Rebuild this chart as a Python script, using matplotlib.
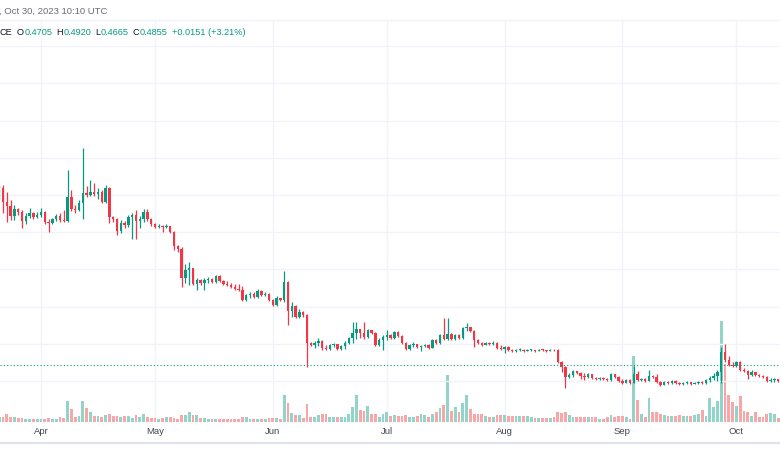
import numpy as np
import matplotlib.pyplot as plt
import matplotlib.dates as mdates
from matplotlib.lines import Line2D
from datetime import datetime, timedelta

plt.rcParams['font.family'] = ['Liberation Sans', 'DejaVu Sans']

# daily candles, first one on 2023-03-21
start_day = datetime(2023, 3, 21)
first_open = 1.384

closes = [
    1.438, 1.362, 1.341, 1.287, 1.325, 1.309, 1.260, 1.287, 1.303, 1.282,
    1.292, 1.309, 1.255, 1.249, 1.271, 1.287, 1.266, 1.260, 1.389, 1.325,
    1.319, 1.357, 1.411, 1.400, 1.416, 1.405, 1.416, 1.362, 1.438, 1.282,
    1.271, 1.206, 1.249, 1.239, 1.282, 1.292, 1.260, 1.271, 1.309, 1.271,
    1.244, 1.228, 1.233, 1.228, 1.233, 1.201, 1.126, 1.110, 0.954, 0.997,
    1.008, 0.922, 0.943, 0.927, 0.943, 0.948, 0.932, 0.965, 0.938, 0.922,
    0.916, 0.905, 0.895, 0.889, 0.835, 0.862, 0.868, 0.852, 0.884, 0.862,
    0.868, 0.835, 0.809, 0.846, 0.835, 0.932, 0.776, 0.803, 0.744, 0.771,
    0.755, 0.604, 0.594, 0.604, 0.615, 0.577, 0.572, 0.594, 0.599, 0.572,
    0.588, 0.604, 0.631, 0.658, 0.680, 0.658, 0.637, 0.674, 0.658, 0.594,
    0.620, 0.637, 0.647, 0.631, 0.663, 0.642, 0.604, 0.572, 0.594, 0.599,
    0.583, 0.588, 0.594, 0.577, 0.620, 0.604, 0.647, 0.626, 0.653, 0.626,
    0.647, 0.631, 0.685, 0.690, 0.669, 0.620, 0.604, 0.594, 0.604, 0.599,
    0.604, 0.577, 0.572, 0.583, 0.567, 0.561, 0.567, 0.567, 0.561, 0.567,
    0.567, 0.561, 0.567, 0.566, 0.561, 0.567, 0.565, 0.502, 0.475, 0.422,
    0.432, 0.454, 0.443, 0.427, 0.422, 0.438, 0.416, 0.411, 0.416, 0.411,
    0.405, 0.438, 0.422, 0.400, 0.389, 0.405, 0.389, 0.438, 0.405, 0.411,
    0.400, 0.427, 0.422, 0.395, 0.378, 0.395, 0.389, 0.400, 0.389, 0.384,
    0.389, 0.395, 0.384, 0.389, 0.395, 0.389, 0.405, 0.416, 0.427, 0.448,
    0.556, 0.513, 0.486, 0.481, 0.502, 0.459, 0.454, 0.432, 0.448, 0.432,
    0.427, 0.422, 0.400, 0.405, 0.411, 0.400,
]

highs = [
    1.454, 1.454, 1.416, 1.373, 1.346, 1.330, 1.319, 1.303, 1.330, 1.309,
    1.309, 1.330, 1.314, 1.271, 1.276, 1.298, 1.303, 1.319, 1.534, 1.427,
    1.346, 1.373, 1.653, 1.448, 1.481, 1.464, 1.438, 1.427, 1.454, 1.443,
    1.287, 1.276, 1.266, 1.260, 1.292, 1.303, 1.319, 1.287, 1.325, 1.325,
    1.276, 1.249, 1.244, 1.239, 1.244, 1.233, 1.206, 1.131, 1.120, 1.029,
    1.040, 1.008, 0.954, 0.948, 0.954, 0.959, 0.954, 0.970, 0.970, 0.943,
    0.938, 0.927, 0.922, 0.922, 0.911, 0.868, 0.878, 0.878, 0.895, 0.889,
    0.878, 0.873, 0.841, 0.857, 0.846, 0.991, 0.938, 0.825, 0.809, 0.787,
    0.776, 0.760, 0.610, 0.615, 0.631, 0.620, 0.594, 0.599, 0.604, 0.599,
    0.594, 0.615, 0.637, 0.717, 0.717, 0.680, 0.717, 0.680, 0.674, 0.663,
    0.631, 0.647, 0.674, 0.653, 0.669, 0.669, 0.647, 0.610, 0.599, 0.610,
    0.599, 0.594, 0.599, 0.599, 0.626, 0.626, 0.653, 0.739, 0.739, 0.658,
    0.653, 0.653, 0.690, 0.712, 0.690, 0.674, 0.626, 0.610, 0.610, 0.610,
    0.615, 0.610, 0.594, 0.588, 0.588, 0.572, 0.572, 0.577, 0.572, 0.572,
    0.572, 0.567, 0.572, 0.572, 0.567, 0.570, 0.570, 0.572, 0.508, 0.481,
    0.443, 0.459, 0.454, 0.448, 0.443, 0.443, 0.438, 0.422, 0.422, 0.422,
    0.416, 0.443, 0.438, 0.427, 0.411, 0.411, 0.411, 0.481, 0.454, 0.416,
    0.416, 0.459, 0.432, 0.438, 0.400, 0.400, 0.400, 0.405, 0.405, 0.395,
    0.395, 0.400, 0.395, 0.395, 0.400, 0.400, 0.411, 0.427, 0.443, 0.459,
    0.583, 0.599, 0.534, 0.502, 0.508, 0.508, 0.470, 0.459, 0.459, 0.448,
    0.438, 0.432, 0.427, 0.416, 0.416, 0.411,
]

lows = [
    1.373, 1.303, 1.255, 1.266, 1.266, 1.292, 1.223, 1.244, 1.276, 1.271,
    1.276, 1.282, 1.244, 1.201, 1.244, 1.260, 1.255, 1.255, 1.255, 1.314,
    1.303, 1.314, 1.271, 1.389, 1.395, 1.395, 1.378, 1.357, 1.357, 1.249,
    1.255, 1.185, 1.196, 1.223, 1.228, 1.163, 1.163, 1.223, 1.255, 1.260,
    1.233, 1.223, 1.223, 1.201, 1.223, 1.196, 1.104, 1.094, 0.905, 0.927,
    0.916, 0.916, 0.889, 0.916, 0.889, 0.927, 0.927, 0.927, 0.932, 0.916,
    0.911, 0.900, 0.889, 0.884, 0.830, 0.830, 0.846, 0.846, 0.846, 0.857,
    0.857, 0.830, 0.803, 0.803, 0.830, 0.825, 0.701, 0.744, 0.739, 0.739,
    0.744, 0.475, 0.588, 0.577, 0.588, 0.567, 0.567, 0.567, 0.583, 0.567,
    0.567, 0.572, 0.599, 0.604, 0.626, 0.631, 0.626, 0.631, 0.653, 0.588,
    0.588, 0.567, 0.620, 0.626, 0.626, 0.637, 0.599, 0.567, 0.567, 0.583,
    0.577, 0.561, 0.583, 0.572, 0.577, 0.599, 0.599, 0.620, 0.620, 0.620,
    0.620, 0.626, 0.626, 0.669, 0.663, 0.583, 0.599, 0.588, 0.594, 0.594,
    0.594, 0.572, 0.567, 0.551, 0.561, 0.556, 0.556, 0.561, 0.556, 0.561,
    0.561, 0.556, 0.561, 0.561, 0.556, 0.561, 0.561, 0.497, 0.448, 0.362,
    0.416, 0.422, 0.438, 0.411, 0.405, 0.416, 0.411, 0.405, 0.405, 0.405,
    0.400, 0.400, 0.416, 0.395, 0.384, 0.389, 0.384, 0.389, 0.400, 0.400,
    0.395, 0.400, 0.416, 0.389, 0.373, 0.378, 0.384, 0.384, 0.384, 0.378,
    0.378, 0.384, 0.378, 0.384, 0.384, 0.384, 0.384, 0.395, 0.405, 0.400,
    0.389, 0.502, 0.481, 0.475, 0.475, 0.454, 0.448, 0.411, 0.427, 0.427,
    0.422, 0.416, 0.395, 0.395, 0.395, 0.395,
]

# volume, in 100K units
volumes = [
    4.3, 4.3, 7.7, 4.3, 5.0, 3.3, 3.7, 3.0, 3.0, 3.0,
    2.3, 2.3, 2.3, 3.7, 3.0, 3.0, 4.3, 3.5, 21.0, 12.7,
    5.0, 6.0, 20.3, 13.3, 9.3, 5.3, 5.3, 4.3, 6.7, 8.0,
    6.0, 5.3, 4.3, 6.0, 5.3, 3.3, 6.7, 4.3, 7.7, 4.3,
    3.3, 3.3, 2.7, 3.3, 5.0, 5.0, 3.3, 2.7, 7.0, 6.7,
    9.3, 6.3, 6.7, 3.3, 3.3, 3.0, 3.0, 3.0, 3.0, 3.0,
    3.0, 3.0, 3.0, 3.0, 5.0, 4.3, 3.0, 3.0, 3.0, 3.0,
    3.0, 3.3, 4.0, 3.3, 2.7, 27.0, 18.7, 8.7, 7.0, 6.3,
    3.7, 18.0, 4.3, 4.3, 6.7, 8.0, 7.3, 4.3, 4.3, 4.3,
    5.0, 4.3, 7.3, 15.0, 27.0, 11.7, 11.0, 16.0, 7.3, 7.3,
    5.0, 7.7, 9.3, 6.0, 6.7, 6.0, 6.0, 6.7, 4.3, 4.3,
    6.0, 8.0, 6.7, 4.3, 7.7, 10.0, 13.7, 17.0, 47.0, 11.0,
    15.0, 9.3, 18.7, 26.7, 12.7, 7.7, 7.3, 7.3, 5.3, 5.0,
    4.3, 6.7, 6.7, 7.0, 6.0, 6.0, 6.0, 6.0, 5.3, 5.3,
    4.3, 3.3, 3.3, 3.3, 3.3, 3.7, 4.3, 9.3, 9.0, 10.0,
    7.0, 4.3, 4.3, 4.3, 4.3, 4.3, 4.3, 4.3, 2.7, 2.7,
    4.3, 6.7, 5.0, 6.0, 5.3, 4.3, 2.7, 66.0, 21.7, 7.7,
    4.3, 23.3, 10.0, 10.0, 7.7, 6.7, 6.0, 6.0, 5.3, 6.7,
    5.7, 5.7, 5.3, 6.7, 7.7, 11.7, 5.7, 23.7, 15.0, 20.3,
    101.0, 58.0, 26.7, 19.3, 16.0, 26.0, 11.0, 9.3, 6.0, 9.3,
    4.3, 4.3, 7.7, 8.7, 7.7, 3.3,
]

month_ticks = [datetime(2023, 4, 1), datetime(2023, 5, 1), datetime(2023, 6, 1),
               datetime(2023, 7, 1), datetime(2023, 8, 1), datetime(2023, 9, 1),
               datetime(2023, 10, 1)]
month_labels = ["Apr", "May", "Jun", "Jul", "Aug", "Sep", "Oct"]
price_grid = [0.4, 0.6, 0.8, 1.0, 1.2, 1.4, 1.6, 1.8, 2.0, 2.2]

# legend line values (last bar, Oct 30)
last_open, last_high, last_low, last_close = 0.4705, 0.4920, 0.4665, 0.4855
last_change, last_change_pct = 0.0151, 3.21

GREEN = "#089981"
RED = "#f23645"
VOL_GREEN = "#92d3ca"
VOL_RED = "#f9a6a9"
GRID = "#f0f3fa"
DARK = "#131722"

W, H = 780, 470


def fx(px):
    return px / W


def fy(py):
    return 1 - py / H


dates = [start_day + timedelta(days=k) for k in range(len(closes))]
x = mdates.date2num(dates)
c = np.array(closes)
o = np.array([first_open] + closes[:-1])
hi = np.array(highs)
lo = np.array(lows)
up = c >= o
col = np.where(up, GREEN, RED)
vcol = np.where(up, VOL_GREEN, VOL_RED)

fig = plt.figure(figsize=(W / 100, H / 100), dpi=100)
fig.patch.set_facecolor("white")

pane_top, pane_bot = 20, 421.5
rect = [0, fy(pane_bot), 1, (pane_bot - pane_top) / H]

px_per_day = 3.8
apr1 = mdates.date2num(datetime(2023, 4, 1))
xlim = (apr1 - 41 / px_per_day, apr1 + (W - 41) / px_per_day)

# volume pane underneath
axv = fig.add_axes(rect, zorder=1)
axv.bar(x, volumes, width=0.72, color=vcol, linewidth=0)
axv.set_xlim(xlim)
axv.set_ylim(0, pane_bot - pane_top)
axv.set_xticks(mdates.date2num(month_ticks))
axv.grid(axis="x", color=GRID, linewidth=1)
axv.set_axisbelow(True)
axv.set_yticks([])
axv.tick_params(axis="x", length=0, labelbottom=False)
for s in axv.spines.values():
    s.set_visible(False)

# price pane on top
ax = fig.add_axes(rect, zorder=2)
ax.patch.set_visible(False)
ax.vlines(x, lo, hi, colors=col, linewidth=0.9)
body_h = np.maximum(np.abs(c - o), 0.004)
ax.bar(x, body_h, bottom=np.minimum(o, c), width=0.62, color=col, linewidth=0)
ax.axhline(last_close, color=GREEN, linestyle=(0, (1, 2)), linewidth=0.8)

ax.set_xlim(xlim)
ax.set_ylim(0.4 - (pane_bot - 381) / 186, 0.4 + (381 - pane_top) / 186)
ax.set_yticks(price_grid)
ax.yaxis.set_ticklabels([])
ax.tick_params(axis="y", length=0)
ax.grid(axis="y", color=GRID, linewidth=1)
ax.set_axisbelow(True)
ax.set_xticks(mdates.date2num(month_ticks))
ax.set_xticklabels(month_labels)
ax.tick_params(axis="x", length=0, pad=4, labelsize=6.8, labelcolor="#434651")
for s in ax.spines.values():
    s.set_visible(False)

# pane borders
fig.add_artist(Line2D([0, 1], [fy(pane_top)] * 2, color=GRID, linewidth=1))
fig.add_artist(Line2D([0, 1], [fy(443)] * 2, color="#e0e3eb", linewidth=1.6))

# header text
fig.text(fx(-1), fy(11), ", Oct 30, 2023 10:10 UTC", fontsize=6.8,
         color="#6a6d78", va="center", ha="left")

# OHLC legend, pieces laid out one after another
renderer = fig.canvas.get_renderer()
pieces = [
    ("CE", DARK, 3.5), ("O", DARK, 0), ("{:.4f}".format(last_open), GREEN, 3.5),
    ("H", DARK, 0), ("{:.4f}".format(last_high), GREEN, 3.5),
    ("L", DARK, 0), ("{:.4f}".format(last_low), GREEN, 3.5),
    ("C", DARK, 0), ("{:.4f}".format(last_close), GREEN, 3.5),
    ("+{:.4f} (+{:.2f}%)".format(last_change, last_change_pct), GREEN, 0),
]
cur = 0.0
legend_y = fy(32.5)
for txt, color, gap in pieces:
    t = fig.text(fx(cur), legend_y, txt, fontsize=6.6, color=color, va="center", ha="left")
    cur += t.get_window_extent(renderer).width + 0.5 + gap

fig.savefig("out.png", dpi=100, facecolor="white")
